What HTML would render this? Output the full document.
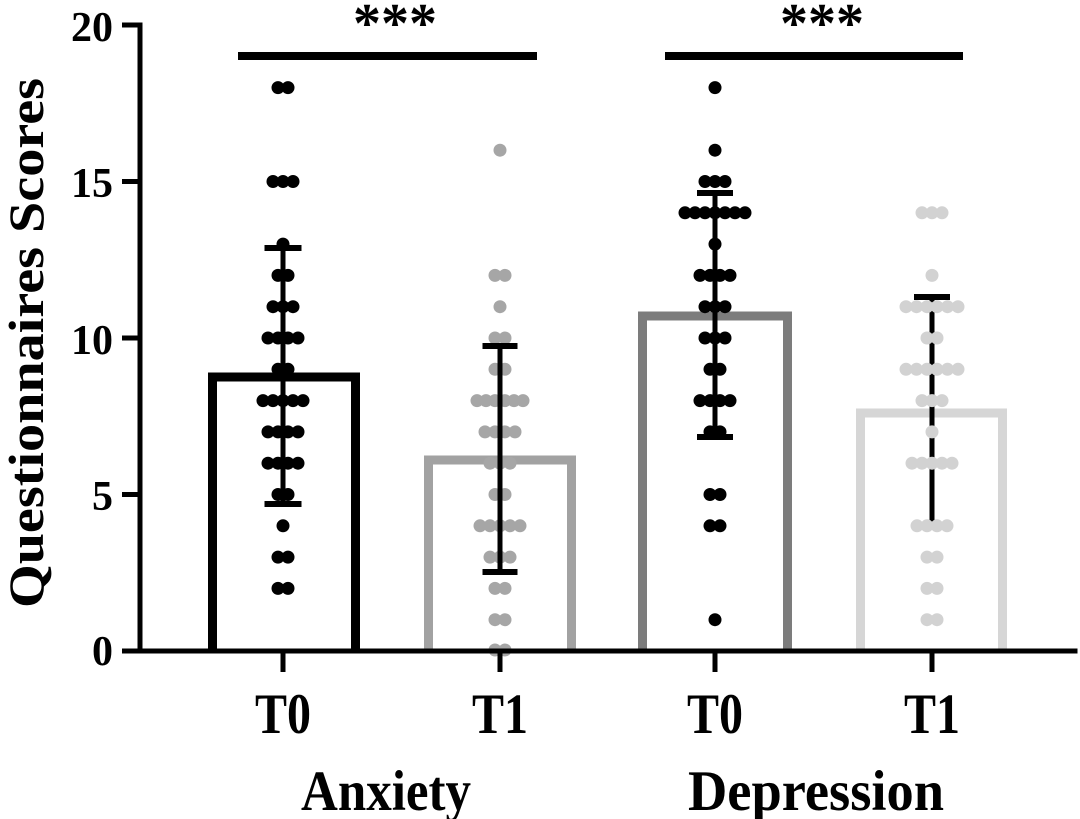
<!DOCTYPE html>
<html>
<head>
<meta charset="utf-8">
<style>
  html, body { margin: 0; padding: 0; background: #ffffff; }
  svg { display: block; }
  text { font-family: "Liberation Serif", "DejaVu Serif", serif; font-weight: bold; fill: #000; }
</style>
</head>
<body>
<svg width="1080" height="819" viewBox="0 0 1080 819" xmlns="http://www.w3.org/2000/svg">
  <rect x="0" y="0" width="1080" height="819" fill="#ffffff"/>

  <!-- Y axis label -->
  <text transform="translate(43,343) rotate(-90)" font-size="50" text-anchor="middle" textLength="530" lengthAdjust="spacingAndGlyphs">Questionnaires Scores</text>

  <!-- Y tick labels -->
  <text x="113" y="41" font-size="42" text-anchor="end">20</text>
  <text x="113" y="197" font-size="42" text-anchor="end">15</text>
  <text x="113" y="354" font-size="42" text-anchor="end">10</text>
  <text x="113" y="510" font-size="42" text-anchor="end">5</text>
  <text x="113" y="665" font-size="42" text-anchor="end">0</text>

  <!-- Bars (open at bottom, sitting on axis) -->
  <g fill="#ffffff" stroke-width="9" stroke-linejoin="miter">
    <path d="M212.5,651 V377 H355.5 V651" stroke="#000000"/>
    <path d="M428.5,651 V460 H571.5 V651" stroke="#a2a2a2"/>
    <path d="M642.5,651 V316 H787.5 V651" stroke="#7c7c7c"/>
    <path d="M860.5,651 V413 H1002.5 V651" stroke="#d6d6d6"/>
  </g>

  <!-- Anxiety T0 dots (black) -->
  <g fill="#000000">
    <circle cx="278" cy="87.6" r="6.5"/><circle cx="288" cy="87.6" r="6.5"/>
    <circle cx="273" cy="181.5" r="6.5"/><circle cx="283" cy="181.5" r="6.5"/><circle cx="293" cy="181.5" r="6.5"/>
    <circle cx="283" cy="244.1" r="6.5"/>
    <circle cx="278" cy="275.4" r="6.5"/><circle cx="288" cy="275.4" r="6.5"/>
    <circle cx="273" cy="306.7" r="6.5"/><circle cx="283" cy="306.7" r="6.5"/><circle cx="293" cy="306.7" r="6.5"/>
    <circle cx="268" cy="338" r="6.5"/><circle cx="278" cy="338" r="6.5"/><circle cx="288" cy="338" r="6.5"/><circle cx="298" cy="338" r="6.5"/>
    <circle cx="278" cy="369.3" r="6.5"/><circle cx="288" cy="369.3" r="6.5"/>
    <circle cx="263" cy="400.6" r="6.5"/><circle cx="273" cy="400.6" r="6.5"/><circle cx="283" cy="400.6" r="6.5"/><circle cx="293" cy="400.6" r="6.5"/><circle cx="303" cy="400.6" r="6.5"/>
    <circle cx="268" cy="431.9" r="6.5"/><circle cx="278" cy="431.9" r="6.5"/><circle cx="288" cy="431.9" r="6.5"/><circle cx="298" cy="431.9" r="6.5"/>
    <circle cx="268" cy="463.2" r="6.5"/><circle cx="278" cy="463.2" r="6.5"/><circle cx="288" cy="463.2" r="6.5"/><circle cx="298" cy="463.2" r="6.5"/>
    <circle cx="278" cy="494.5" r="6.5"/><circle cx="288" cy="494.5" r="6.5"/>
    <circle cx="283" cy="525.8" r="6.5"/>
    <circle cx="278" cy="557.1" r="6.5"/><circle cx="288" cy="557.1" r="6.5"/>
    <circle cx="278" cy="588.4" r="6.5"/><circle cx="288" cy="588.4" r="6.5"/>
  </g>
  <!-- Anxiety T0 error bar -->
  <g stroke="#000000">
    <line x1="283" y1="248" x2="283" y2="504" stroke-width="5"/>
    <line x1="264.5" y1="248" x2="301.5" y2="248" stroke-width="6"/>
    <line x1="264.5" y1="504" x2="301.5" y2="504" stroke-width="6"/>
  </g>

  <!-- Anxiety T1 dots (gray) -->
  <g fill="#a6a6a6">
    <circle cx="500" cy="150.2" r="6.5"/>
    <circle cx="495" cy="275.4" r="6.5"/><circle cx="505" cy="275.4" r="6.5"/>
    <circle cx="500" cy="306.7" r="6.5"/>
    <circle cx="495" cy="338" r="6.5"/><circle cx="505" cy="338" r="6.5"/>
    <circle cx="495" cy="369.3" r="6.5"/><circle cx="505" cy="369.3" r="6.5"/>
    <circle cx="477" cy="400.6" r="6.5"/><circle cx="486" cy="400.6" r="6.5"/><circle cx="495" cy="400.6" r="6.5"/><circle cx="505" cy="400.6" r="6.5"/><circle cx="514" cy="400.6" r="6.5"/><circle cx="523" cy="400.6" r="6.5"/>
    <circle cx="485" cy="431.9" r="6.5"/><circle cx="495" cy="431.9" r="6.5"/><circle cx="505" cy="431.9" r="6.5"/><circle cx="515" cy="431.9" r="6.5"/>
    <circle cx="490" cy="463.2" r="6.5"/><circle cx="500" cy="463.2" r="6.5"/><circle cx="510" cy="463.2" r="6.5"/>
    <circle cx="495" cy="494.5" r="6.5"/><circle cx="505" cy="494.5" r="6.5"/>
    <circle cx="480" cy="525.8" r="6.5"/><circle cx="490" cy="525.8" r="6.5"/><circle cx="500" cy="525.8" r="6.5"/><circle cx="510" cy="525.8" r="6.5"/><circle cx="520" cy="525.8" r="6.5"/>
    <circle cx="490" cy="557.1" r="6.5"/><circle cx="500" cy="557.1" r="6.5"/><circle cx="510" cy="557.1" r="6.5"/>
    <circle cx="495" cy="588.4" r="6.5"/><circle cx="505" cy="588.4" r="6.5"/>
    <circle cx="495" cy="619.7" r="6.5"/><circle cx="505" cy="619.7" r="6.5"/>
    <circle cx="495" cy="650" r="6.5"/><circle cx="505" cy="650" r="6.5"/>
  </g>
  <!-- Anxiety T1 error bar -->
  <g stroke="#000000">
    <line x1="500" y1="346" x2="500" y2="572" stroke-width="5"/>
    <line x1="482.5" y1="346" x2="517.5" y2="346" stroke-width="6"/>
    <line x1="482.5" y1="572" x2="517.5" y2="572" stroke-width="6"/>
  </g>

  <!-- Depression T0 dots (black) -->
  <g fill="#000000">
    <circle cx="715" cy="87.6" r="6.5"/>
    <circle cx="715" cy="150.2" r="6.5"/>
    <circle cx="705" cy="181.5" r="6.5"/><circle cx="715" cy="181.5" r="6.5"/><circle cx="725" cy="181.5" r="6.5"/>
    <circle cx="685" cy="212.8" r="6.5"/><circle cx="695" cy="212.8" r="6.5"/><circle cx="705" cy="212.8" r="6.5"/><circle cx="715" cy="212.8" r="6.5"/><circle cx="725" cy="212.8" r="6.5"/><circle cx="735" cy="212.8" r="6.5"/><circle cx="745" cy="212.8" r="6.5"/>
    <circle cx="715" cy="244.1" r="6.5"/>
    <circle cx="700" cy="275.4" r="6.5"/><circle cx="710" cy="275.4" r="6.5"/><circle cx="720" cy="275.4" r="6.5"/><circle cx="730" cy="275.4" r="6.5"/>
    <circle cx="705" cy="306.7" r="6.5"/><circle cx="715" cy="306.7" r="6.5"/><circle cx="725" cy="306.7" r="6.5"/>
    <circle cx="705" cy="338" r="6.5"/><circle cx="715" cy="338" r="6.5"/><circle cx="725" cy="338" r="6.5"/>
    <circle cx="710" cy="369.3" r="6.5"/><circle cx="720" cy="369.3" r="6.5"/>
    <circle cx="700" cy="400.6" r="6.5"/><circle cx="710" cy="400.6" r="6.5"/><circle cx="720" cy="400.6" r="6.5"/><circle cx="730" cy="400.6" r="6.5"/>
    <circle cx="710" cy="431.9" r="6.5"/><circle cx="720" cy="431.9" r="6.5"/>
    <circle cx="710" cy="494.5" r="6.5"/><circle cx="720" cy="494.5" r="6.5"/>
    <circle cx="710" cy="525.8" r="6.5"/><circle cx="720" cy="525.8" r="6.5"/>
    <circle cx="715" cy="619.7" r="6.5"/>
  </g>
  <!-- Depression T0 error bar -->
  <g stroke="#000000">
    <line x1="715" y1="193" x2="715" y2="437" stroke-width="5"/>
    <line x1="697" y1="193" x2="733" y2="193" stroke-width="6"/>
    <line x1="697" y1="437" x2="733" y2="437" stroke-width="6"/>
  </g>

  <!-- Depression T1 error bar (under dots) -->
  <g stroke="#000000">
    <line x1="932" y1="297" x2="932" y2="522" stroke-width="5"/>
    <line x1="914" y1="297" x2="950" y2="297" stroke-width="6"/>
  </g>
  <!-- Depression T1 dots (light gray) -->
  <g fill="#d2d2d2">
    <circle cx="922" cy="212.8" r="6.5"/><circle cx="932" cy="212.8" r="6.5"/><circle cx="942" cy="212.8" r="6.5"/>
    <circle cx="932" cy="275.4" r="6.5"/>
    <circle cx="906" cy="306.7" r="6.5"/><circle cx="916.5" cy="306.7" r="6.5"/><circle cx="927" cy="306.7" r="6.5"/><circle cx="937" cy="306.7" r="6.5"/><circle cx="947.5" cy="306.7" r="6.5"/><circle cx="958" cy="306.7" r="6.5"/>
    <circle cx="927" cy="338" r="6.5"/><circle cx="937" cy="338" r="6.5"/>
    <circle cx="906" cy="369.3" r="6.5"/><circle cx="916.5" cy="369.3" r="6.5"/><circle cx="927" cy="369.3" r="6.5"/><circle cx="937" cy="369.3" r="6.5"/><circle cx="947.5" cy="369.3" r="6.5"/><circle cx="958" cy="369.3" r="6.5"/>
    <circle cx="922" cy="400.6" r="6.5"/><circle cx="932" cy="400.6" r="6.5"/><circle cx="942" cy="400.6" r="6.5"/>
    <circle cx="932" cy="431.9" r="6.5"/>
    <circle cx="912" cy="463.2" r="6.5"/><circle cx="922" cy="463.2" r="6.5"/><circle cx="932" cy="463.2" r="6.5"/><circle cx="942" cy="463.2" r="6.5"/><circle cx="952" cy="463.2" r="6.5"/>
    <circle cx="917" cy="525.8" r="6.5"/><circle cx="927" cy="525.8" r="6.5"/><circle cx="937" cy="525.8" r="6.5"/><circle cx="947" cy="525.8" r="6.5"/>
    <circle cx="927" cy="557.1" r="6.5"/><circle cx="937" cy="557.1" r="6.5"/>
    <circle cx="927" cy="588.4" r="6.5"/><circle cx="937" cy="588.4" r="6.5"/>
    <circle cx="927" cy="619.7" r="6.5"/><circle cx="937" cy="619.7" r="6.5"/>
  </g>

  <!-- Axes -->
  <g fill="#000000">
    <rect x="137.5" y="22.5" width="5" height="631"/>
    <rect x="137.5" y="648.5" width="940" height="5"/>
    <!-- y ticks -->
    <rect x="122" y="22.5" width="18" height="5"/>
    <rect x="122" y="179" width="18" height="5"/>
    <rect x="122" y="335.5" width="18" height="5"/>
    <rect x="122" y="492" width="18" height="5"/>
    <rect x="122" y="648.5" width="18" height="5"/>
    <!-- x ticks -->
    <rect x="280.5" y="651" width="5" height="21"/>
    <rect x="497.5" y="651" width="5" height="21"/>
    <rect x="712.5" y="651" width="5" height="21"/>
    <rect x="929.5" y="651" width="5" height="21"/>
  </g>

  <!-- Significance bars -->
  <rect x="238" y="52" width="299" height="8" fill="#000000"/>
  <rect x="665" y="52" width="298" height="8" fill="#000000"/>
  <text x="395" y="42" font-size="56" text-anchor="middle" textLength="84" lengthAdjust="spacingAndGlyphs">***</text>
  <text x="822" y="42" font-size="56" text-anchor="middle" textLength="84" lengthAdjust="spacingAndGlyphs">***</text>

  <!-- X tick labels -->
  <text transform="translate(283,733) scale(1,1.2)" font-size="48" text-anchor="middle">T0</text>
  <text transform="translate(500,733) scale(1,1.2)" font-size="48" text-anchor="middle">T1</text>
  <text transform="translate(715,733) scale(1,1.2)" font-size="48" text-anchor="middle">T0</text>
  <text transform="translate(932,733) scale(1,1.2)" font-size="48" text-anchor="middle">T1</text>

  <!-- Group labels -->
  <text transform="translate(386,810) scale(1,1.1)" font-size="52" text-anchor="middle" textLength="170" lengthAdjust="spacingAndGlyphs">Anxiety</text>
  <text transform="translate(816,810) scale(1,1.1)" font-size="52" text-anchor="middle" textLength="256" lengthAdjust="spacingAndGlyphs">Depression</text>
</svg>
</body>
</html>
